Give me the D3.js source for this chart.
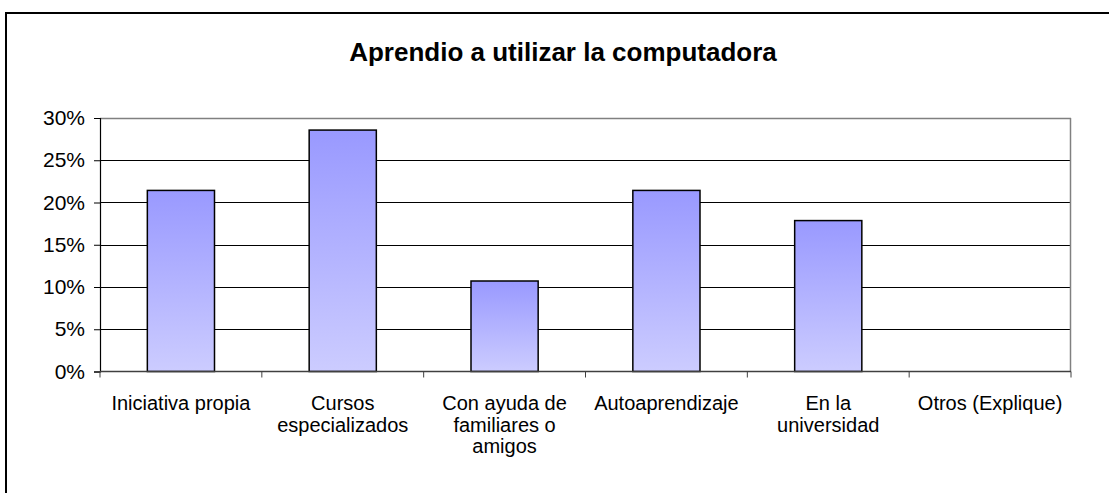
<!DOCTYPE html>
<html>
<head>
<meta charset="utf-8">
<script src="https://cdn.jsdelivr.net/npm/d3@7"></script>
<style>
  html, body { margin: 0; padding: 0; background: #fff; }
  svg { display: block; font-family: "Liberation Sans", Arial, sans-serif; }
</style>
</head>
<body>
<svg id="chart" width="1109" height="493"></svg>
<script>
const title = "Aprendio a utilizar la computadora";
const categories = ["Iniciativa propia", "Cursos especializados", "Con ayuda de familiares o amigos", "Autoaprendizaje", "En la universidad", "Otros (Explique)"];
const values = [0.2143, 0.2857, 0.1071, 0.2143, 0.1786, 0];
const yTicks = [0, 0.05, 0.10, 0.15, 0.20, 0.25, 0.30];

const svg = d3.select("#chart");
const plot = { left: 100, right: 1071, top: 118, bottom: 371.5 };

// outer frame
svg.append("rect")
  .attr("x", 6).attr("y", 13).attr("width", 1300).attr("height", 700)
  .attr("fill", "none").attr("stroke", "#000").attr("stroke-width", 2);

// gradient
const defs = svg.append("defs");
const grad = defs.append("linearGradient").attr("id", "barGrad")
  .attr("x1", 0).attr("y1", 0).attr("x2", 0).attr("y2", 1);
grad.append("stop").attr("offset", "0%").attr("stop-color", "#9999FF");
grad.append("stop").attr("offset", "100%").attr("stop-color", "#CCCCFF");

const x = d3.scaleBand().domain(categories).range([plot.left, plot.right]).padding(0);
const y = d3.scaleLinear().domain([0, 0.30]).range([plot.bottom, plot.top]);

// gridlines
svg.append("g").selectAll("line").data(yTicks.filter(d => d > 0 && d < 0.30)).join("line")
  .attr("x1", plot.left).attr("x2", plot.right)
  .attr("y1", d => Math.round(y(d)) + 0.5).attr("y2", d => Math.round(y(d)) + 0.5)
  .attr("stroke", "#000").attr("stroke-width", 1);

// plot border top & right (gray)
svg.append("line").attr("x1", plot.left).attr("x2", plot.right)
  .attr("y1", Math.round(y(0.30)) + 0.5).attr("y2", Math.round(y(0.30)) + 0.5)
  .attr("stroke", "#808080").attr("stroke-width", 1.5);
svg.append("line").attr("x1", plot.right - 0.5).attr("x2", plot.right - 0.5)
  .attr("y1", y(0.30)).attr("y2", y(0))
  .attr("stroke", "#808080").attr("stroke-width", 1.5);

// bars
const barW = x.bandwidth() * 0.415;
svg.append("g").selectAll("rect").data(categories.map((c, i) => ({ c, v: values[i] })).filter(d => d.v > 0)).join("rect")
  .attr("x", d => x(d.c) + (x.bandwidth() - barW) / 2)
  .attr("y", d => y(d.v))
  .attr("width", barW)
  .attr("height", d => y(0) - y(d.v))
  .attr("fill", "url(#barGrad)")
  .attr("stroke", "#000").attr("stroke-width", 1.5);

// y axis
const yAxis = d3.axisLeft(y).tickValues(yTicks).tickFormat(d3.format(".0%")).tickSize(6).tickPadding(9);
const gy = svg.append("g").attr("transform", `translate(${plot.left},0)`).call(yAxis);
gy.select(".domain").attr("stroke", "#000").attr("stroke-width", 1.2);
gy.selectAll(".tick line").attr("stroke", "#000");
gy.selectAll(".tick text").attr("font-size", 21).attr("font-family", '"Liberation Sans", Arial, sans-serif').attr("fill", "#000");

// x axis (domain + category boundary ticks)
const gx = svg.append("g").attr("transform", `translate(0,${plot.bottom})`);
gx.append("line").attr("x1", plot.left).attr("x2", plot.right).attr("y1", 0).attr("y2", 0)
  .attr("stroke", "#404040").attr("stroke-width", 1.5);
const bounds = categories.map(c => x(c)).concat([x(categories[categories.length - 1]) + x.bandwidth()]);
gx.selectAll("line.tk").data(bounds).join("line").attr("class", "tk")
  .attr("x1", d => d).attr("x2", d => d).attr("y1", 0).attr("y2", 6)
  .attr("stroke", "#404040").attr("stroke-width", 1);

// x labels with wrapping
const lineH = 21.5;
const maxW = 148;
categories.forEach(c => {
  const t = svg.append("text")
    .attr("x", x(c) + x.bandwidth() / 2)
    .attr("y", 410)
    .attr("text-anchor", "middle")
    .attr("font-size", 20)
    .attr("fill", "#000");
  const words = c.split(" ");
  let line = [];
  let lineNo = 0;
  let tspan = t.append("tspan").attr("x", x(c) + x.bandwidth() / 2).attr("dy", 0);
  words.forEach(w => {
    line.push(w);
    tspan.text(line.join(" "));
    if (tspan.node().getComputedTextLength() > maxW && line.length > 1) {
      line.pop();
      tspan.text(line.join(" "));
      line = [w];
      lineNo++;
      tspan = t.append("tspan").attr("x", x(c) + x.bandwidth() / 2).attr("dy", lineH).text(w);
    }
  });
});

// title
svg.append("text").attr("x", 563).attr("y", 61)
  .attr("text-anchor", "middle").attr("font-size", 26).attr("font-weight", "bold")
  .attr("fill", "#000").text(title);
</script>
</body>
</html>
